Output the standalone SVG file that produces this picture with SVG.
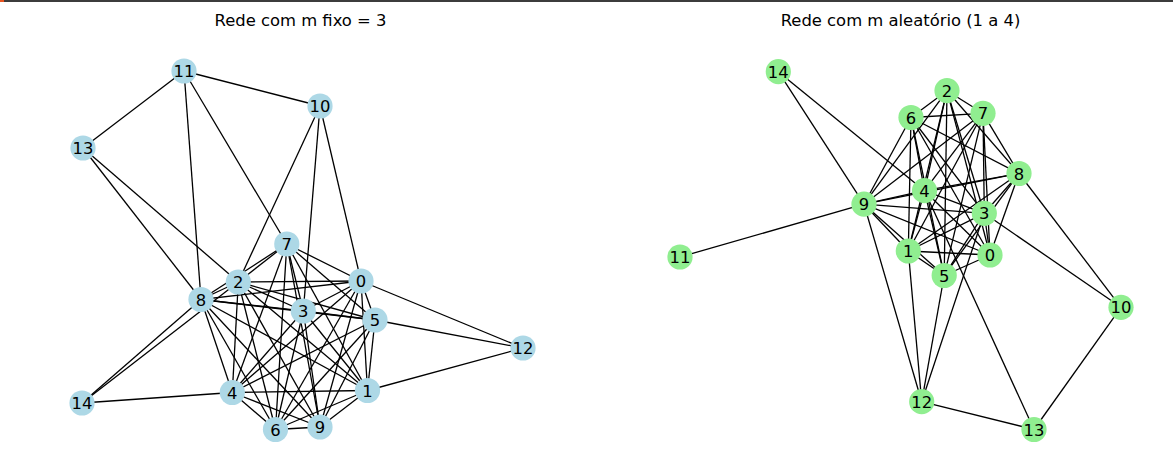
<svg xmlns="http://www.w3.org/2000/svg" width="1173" height="470" viewBox="0 0 1173 470">
<style>
.e{stroke:#000;stroke-width:1.3;fill:none}
.nb{fill:#ADD8E6}
.ng{fill:#90EE90}
.t{font-family:"DejaVu Sans","Liberation Sans",sans-serif;font-size:16.4px;fill:#000;text-anchor:middle}
</style>
<rect x="0" y="0" width="1173" height="470" fill="#fff"/>
<rect x="0" y="0" width="1173" height="2" fill="#3c3c3c"/>
<rect x="0" y="0" width="4" height="2" fill="#e95420"/>
<text class="t" x="300.5" y="26">Rede com m fixo = 3</text>
<text class="t" x="900.5" y="26">Rede com m aleatório (1 a 4)</text>
<g id="connectors-left">
<line class="e" x1="361" y1="281" x2="367.5" y2="390.5"/>
<line class="e" x1="361" y1="281" x2="238.3" y2="282"/>
<line class="e" x1="361" y1="281" x2="303.3" y2="311"/>
<line class="e" x1="361" y1="281" x2="232.3" y2="392.5"/>
<line class="e" x1="361" y1="281" x2="375" y2="320"/>
<line class="e" x1="361" y1="281" x2="275.5" y2="429.5"/>
<line class="e" x1="361" y1="281" x2="286.8" y2="244"/>
<line class="e" x1="361" y1="281" x2="201" y2="299.5"/>
<line class="e" x1="361" y1="281" x2="320" y2="427"/>
<line class="e" x1="367.5" y1="390.5" x2="238.3" y2="282"/>
<line class="e" x1="367.5" y1="390.5" x2="303.3" y2="311"/>
<line class="e" x1="367.5" y1="390.5" x2="232.3" y2="392.5"/>
<line class="e" x1="367.5" y1="390.5" x2="375" y2="320"/>
<line class="e" x1="367.5" y1="390.5" x2="275.5" y2="429.5"/>
<line class="e" x1="367.5" y1="390.5" x2="286.8" y2="244"/>
<line class="e" x1="367.5" y1="390.5" x2="201" y2="299.5"/>
<line class="e" x1="367.5" y1="390.5" x2="320" y2="427"/>
<line class="e" x1="238.3" y1="282" x2="303.3" y2="311"/>
<line class="e" x1="238.3" y1="282" x2="232.3" y2="392.5"/>
<line class="e" x1="238.3" y1="282" x2="375" y2="320"/>
<line class="e" x1="238.3" y1="282" x2="275.5" y2="429.5"/>
<line class="e" x1="238.3" y1="282" x2="286.8" y2="244"/>
<line class="e" x1="238.3" y1="282" x2="201" y2="299.5"/>
<line class="e" x1="238.3" y1="282" x2="320" y2="427"/>
<line class="e" x1="303.3" y1="311" x2="232.3" y2="392.5"/>
<line class="e" x1="303.3" y1="311" x2="375" y2="320"/>
<line class="e" x1="303.3" y1="311" x2="275.5" y2="429.5"/>
<line class="e" x1="303.3" y1="311" x2="286.8" y2="244"/>
<line class="e" x1="303.3" y1="311" x2="201" y2="299.5"/>
<line class="e" x1="303.3" y1="311" x2="320" y2="427"/>
<line class="e" x1="232.3" y1="392.5" x2="375" y2="320"/>
<line class="e" x1="232.3" y1="392.5" x2="275.5" y2="429.5"/>
<line class="e" x1="232.3" y1="392.5" x2="286.8" y2="244"/>
<line class="e" x1="232.3" y1="392.5" x2="201" y2="299.5"/>
<line class="e" x1="232.3" y1="392.5" x2="320" y2="427"/>
<line class="e" x1="375" y1="320" x2="275.5" y2="429.5"/>
<line class="e" x1="375" y1="320" x2="286.8" y2="244"/>
<line class="e" x1="375" y1="320" x2="201" y2="299.5"/>
<line class="e" x1="375" y1="320" x2="320" y2="427"/>
<line class="e" x1="275.5" y1="429.5" x2="286.8" y2="244"/>
<line class="e" x1="275.5" y1="429.5" x2="201" y2="299.5"/>
<line class="e" x1="275.5" y1="429.5" x2="320" y2="427"/>
<line class="e" x1="286.8" y1="244" x2="201" y2="299.5"/>
<line class="e" x1="286.8" y1="244" x2="320" y2="427"/>
<line class="e" x1="201" y1="299.5" x2="320" y2="427"/>
<line class="e" x1="184" y1="71" x2="83" y2="148"/>
<line class="e" x1="184" y1="71" x2="320" y2="106"/>
<line class="e" x1="184" y1="71" x2="201" y2="299.5"/>
<line class="e" x1="184" y1="71" x2="286.8" y2="244"/>
<line class="e" x1="320" y1="106" x2="238.3" y2="282"/>
<line class="e" x1="320" y1="106" x2="303.3" y2="311"/>
<line class="e" x1="320" y1="106" x2="361" y2="281"/>
<line class="e" x1="83" y1="148" x2="201" y2="299.5"/>
<line class="e" x1="83" y1="148" x2="238.3" y2="282"/>
<line class="e" x1="523" y1="348" x2="361" y2="281"/>
<line class="e" x1="523" y1="348" x2="375" y2="320"/>
<line class="e" x1="523" y1="348" x2="367.5" y2="390.5"/>
<line class="e" x1="82" y1="403" x2="201" y2="299.5"/>
<line class="e" x1="82" y1="403" x2="238.3" y2="282"/>
<line class="e" x1="82" y1="403" x2="232.3" y2="392.5"/>
</g>
<g id="connectors-right">
<line class="e" x1="990" y1="255" x2="908.3" y2="251"/>
<line class="e" x1="990" y1="255" x2="947" y2="90.7"/>
<line class="e" x1="990" y1="255" x2="984.3" y2="213.3"/>
<line class="e" x1="990" y1="255" x2="924.5" y2="190.7"/>
<line class="e" x1="990" y1="255" x2="944.2" y2="275.5"/>
<line class="e" x1="990" y1="255" x2="911" y2="117.5"/>
<line class="e" x1="990" y1="255" x2="983" y2="113.3"/>
<line class="e" x1="990" y1="255" x2="1019" y2="173.5"/>
<line class="e" x1="990" y1="255" x2="864" y2="204.2"/>
<line class="e" x1="908.3" y1="251" x2="947" y2="90.7"/>
<line class="e" x1="908.3" y1="251" x2="984.3" y2="213.3"/>
<line class="e" x1="908.3" y1="251" x2="924.5" y2="190.7"/>
<line class="e" x1="908.3" y1="251" x2="944.2" y2="275.5"/>
<line class="e" x1="908.3" y1="251" x2="911" y2="117.5"/>
<line class="e" x1="908.3" y1="251" x2="983" y2="113.3"/>
<line class="e" x1="908.3" y1="251" x2="1019" y2="173.5"/>
<line class="e" x1="908.3" y1="251" x2="864" y2="204.2"/>
<line class="e" x1="947" y1="90.7" x2="984.3" y2="213.3"/>
<line class="e" x1="947" y1="90.7" x2="924.5" y2="190.7"/>
<line class="e" x1="947" y1="90.7" x2="944.2" y2="275.5"/>
<line class="e" x1="947" y1="90.7" x2="911" y2="117.5"/>
<line class="e" x1="947" y1="90.7" x2="983" y2="113.3"/>
<line class="e" x1="947" y1="90.7" x2="1019" y2="173.5"/>
<line class="e" x1="947" y1="90.7" x2="864" y2="204.2"/>
<line class="e" x1="984.3" y1="213.3" x2="924.5" y2="190.7"/>
<line class="e" x1="984.3" y1="213.3" x2="944.2" y2="275.5"/>
<line class="e" x1="984.3" y1="213.3" x2="911" y2="117.5"/>
<line class="e" x1="984.3" y1="213.3" x2="983" y2="113.3"/>
<line class="e" x1="984.3" y1="213.3" x2="1019" y2="173.5"/>
<line class="e" x1="984.3" y1="213.3" x2="864" y2="204.2"/>
<line class="e" x1="924.5" y1="190.7" x2="944.2" y2="275.5"/>
<line class="e" x1="924.5" y1="190.7" x2="911" y2="117.5"/>
<line class="e" x1="924.5" y1="190.7" x2="983" y2="113.3"/>
<line class="e" x1="924.5" y1="190.7" x2="1019" y2="173.5"/>
<line class="e" x1="924.5" y1="190.7" x2="864" y2="204.2"/>
<line class="e" x1="944.2" y1="275.5" x2="911" y2="117.5"/>
<line class="e" x1="944.2" y1="275.5" x2="983" y2="113.3"/>
<line class="e" x1="944.2" y1="275.5" x2="1019" y2="173.5"/>
<line class="e" x1="944.2" y1="275.5" x2="864" y2="204.2"/>
<line class="e" x1="911" y1="117.5" x2="983" y2="113.3"/>
<line class="e" x1="911" y1="117.5" x2="1019" y2="173.5"/>
<line class="e" x1="911" y1="117.5" x2="864" y2="204.2"/>
<line class="e" x1="983" y1="113.3" x2="1019" y2="173.5"/>
<line class="e" x1="983" y1="113.3" x2="864" y2="204.2"/>
<line class="e" x1="1019" y1="173.5" x2="864" y2="204.2"/>
<line class="e" x1="778.3" y1="71.7" x2="864" y2="204.2"/>
<line class="e" x1="778.3" y1="71.7" x2="924.5" y2="190.7"/>
<line class="e" x1="680" y1="257" x2="864" y2="204.2"/>
<line class="e" x1="1121" y1="307.3" x2="1019" y2="173.5"/>
<line class="e" x1="1121" y1="307.3" x2="984.3" y2="213.3"/>
<line class="e" x1="1121" y1="307.3" x2="1034" y2="429.5"/>
<line class="e" x1="921.7" y1="401.7" x2="864" y2="204.2"/>
<line class="e" x1="921.7" y1="401.7" x2="908.3" y2="251"/>
<line class="e" x1="921.7" y1="401.7" x2="944.2" y2="275.5"/>
<line class="e" x1="921.7" y1="401.7" x2="984.3" y2="213.3"/>
<line class="e" x1="921.7" y1="401.7" x2="1034" y2="429.5"/>
<line class="e" x1="1034" y1="429.5" x2="924.5" y2="190.7"/>
</g>
<g id="L0"><circle class="nb" cx="361" cy="281" r="12.6"/><text class="t" x="361" y="287">0</text></g>
<g id="L1"><circle class="nb" cx="367.5" cy="390.5" r="12.6"/><text class="t" x="367.5" y="396.5">1</text></g>
<g id="L2"><circle class="nb" cx="238.3" cy="282" r="12.6"/><text class="t" x="238.3" y="288">2</text></g>
<g id="L3"><circle class="nb" cx="303.3" cy="311" r="12.6"/><text class="t" x="303.3" y="317">3</text></g>
<g id="L4"><circle class="nb" cx="232.3" cy="392.5" r="12.6"/><text class="t" x="232.3" y="398.5">4</text></g>
<g id="L5"><circle class="nb" cx="375" cy="320" r="12.6"/><text class="t" x="375" y="326">5</text></g>
<g id="L6"><circle class="nb" cx="275.5" cy="429.5" r="12.6"/><text class="t" x="275.5" y="435.5">6</text></g>
<g id="L7"><circle class="nb" cx="286.8" cy="244" r="12.6"/><text class="t" x="286.8" y="250">7</text></g>
<g id="L8"><circle class="nb" cx="201" cy="299.5" r="12.6"/><text class="t" x="201" y="305.5">8</text></g>
<g id="L9"><circle class="nb" cx="320" cy="427" r="12.6"/><text class="t" x="320" y="433">9</text></g>
<g id="L10"><circle class="nb" cx="320" cy="106" r="12.6"/><text class="t" x="320" y="112">10</text></g>
<g id="L11"><circle class="nb" cx="184" cy="71" r="12.6"/><text class="t" x="184" y="77">11</text></g>
<g id="L12"><circle class="nb" cx="523" cy="348" r="12.6"/><text class="t" x="523" y="354">12</text></g>
<g id="L13"><circle class="nb" cx="83" cy="148" r="12.6"/><text class="t" x="83" y="154">13</text></g>
<g id="L14"><circle class="nb" cx="82" cy="403" r="12.6"/><text class="t" x="82" y="409">14</text></g>
<g id="R0"><circle class="ng" cx="990" cy="255" r="12.6"/><text class="t" x="990" y="261">0</text></g>
<g id="R1"><circle class="ng" cx="908.3" cy="251" r="12.6"/><text class="t" x="908.3" y="257">1</text></g>
<g id="R2"><circle class="ng" cx="947" cy="90.7" r="12.6"/><text class="t" x="947" y="96.7">2</text></g>
<g id="R3"><circle class="ng" cx="984.3" cy="213.3" r="12.6"/><text class="t" x="984.3" y="219.3">3</text></g>
<g id="R4"><circle class="ng" cx="924.5" cy="190.7" r="12.6"/><text class="t" x="924.5" y="196.7">4</text></g>
<g id="R5"><circle class="ng" cx="944.2" cy="275.5" r="12.6"/><text class="t" x="944.2" y="281.5">5</text></g>
<g id="R6"><circle class="ng" cx="911" cy="117.5" r="12.6"/><text class="t" x="911" y="123.5">6</text></g>
<g id="R7"><circle class="ng" cx="983" cy="113.3" r="12.6"/><text class="t" x="983" y="119.3">7</text></g>
<g id="R8"><circle class="ng" cx="1019" cy="173.5" r="12.6"/><text class="t" x="1019" y="179.5">8</text></g>
<g id="R9"><circle class="ng" cx="864" cy="204.2" r="12.6"/><text class="t" x="864" y="210.2">9</text></g>
<g id="R10"><circle class="ng" cx="1121" cy="307.3" r="12.6"/><text class="t" x="1121" y="313.3">10</text></g>
<g id="R11"><circle class="ng" cx="680" cy="257" r="12.6"/><text class="t" x="680" y="263">11</text></g>
<g id="R12"><circle class="ng" cx="921.7" cy="401.7" r="12.6"/><text class="t" x="921.7" y="407.7">12</text></g>
<g id="R13"><circle class="ng" cx="1034" cy="429.5" r="12.6"/><text class="t" x="1034" y="435.5">13</text></g>
<g id="R14"><circle class="ng" cx="778.3" cy="71.7" r="12.6"/><text class="t" x="778.3" y="77.7">14</text></g>
</svg>
